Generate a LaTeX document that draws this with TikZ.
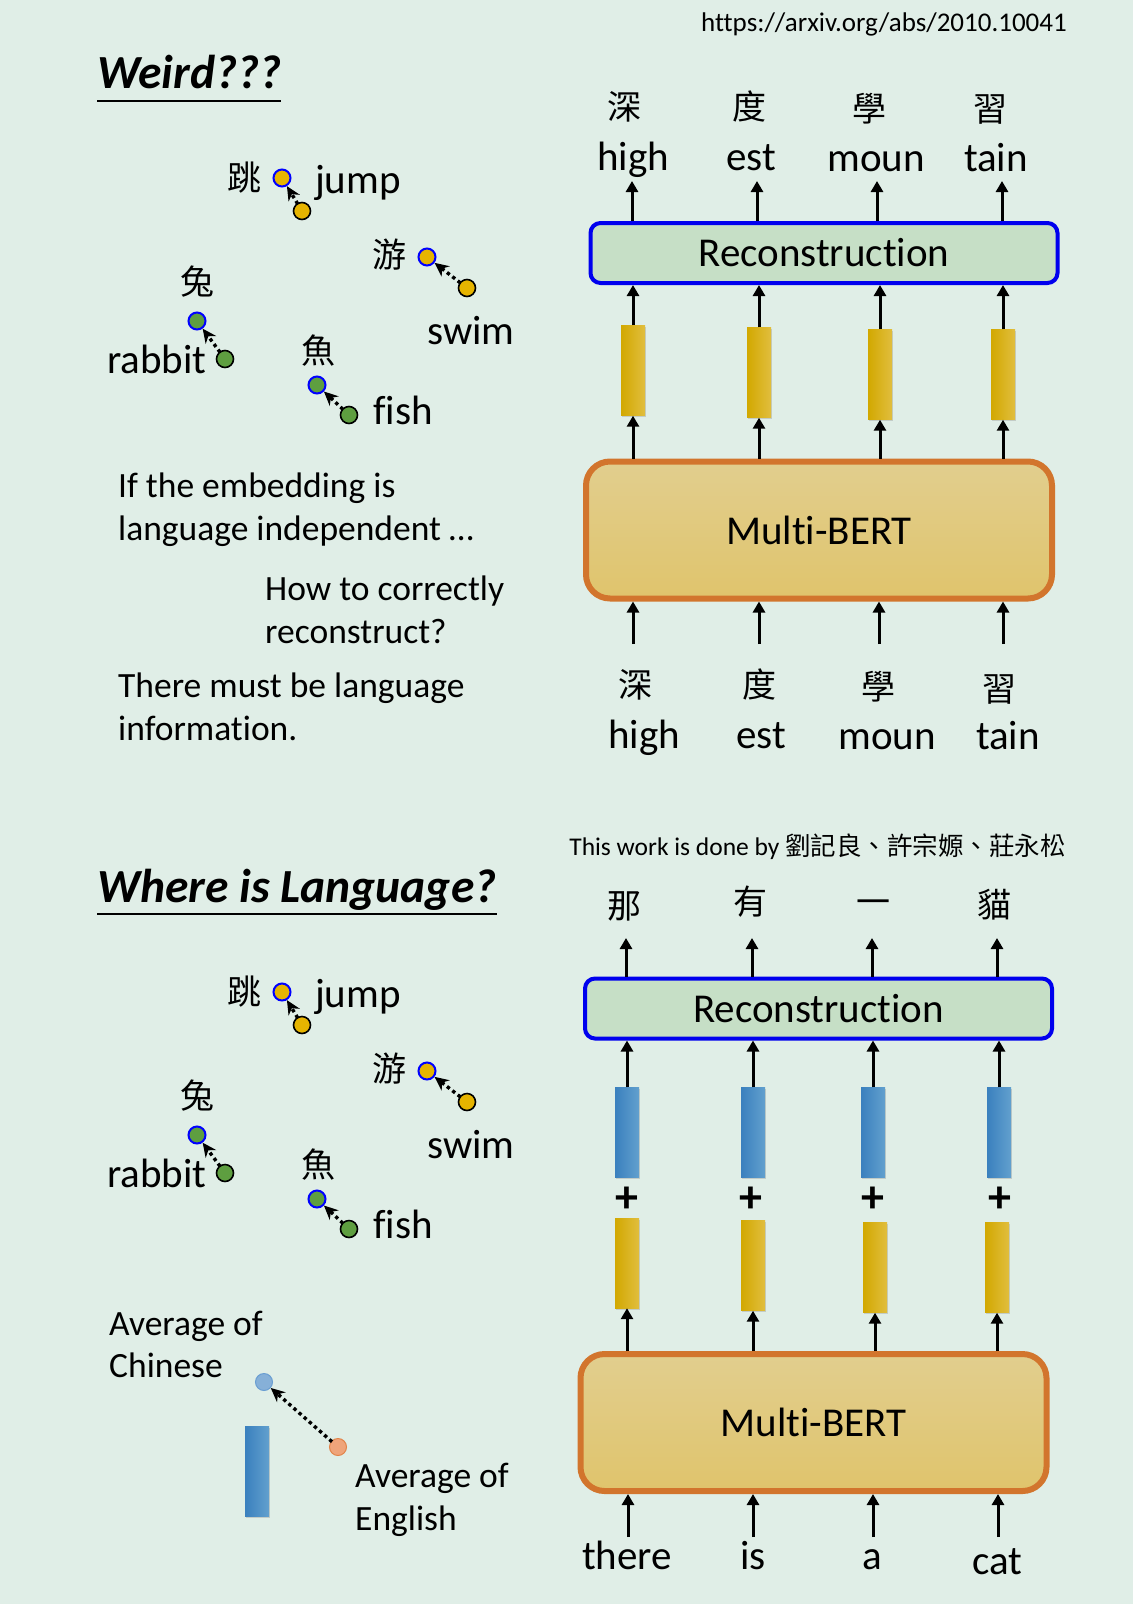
\documentclass[tikz,border=0pt]{standalone}
\usepackage{fontspec}
\setmainfont{Carlito}[Ligatures={NoCommon}]
\newfontfamily\cjk{Noto Sans CJK TC}
\usetikzlibrary{arrows.meta,shadows}
\definecolor{bgc}{HTML}{E0EEE7}
\definecolor{recfill}{HTML}{C6DFC6}
\definecolor{recline}{HTML}{0000EE}
\definecolor{mbtop}{HTML}{E1CE8E}
\definecolor{mbbot}{HTML}{E0C46C}
\definecolor{mbline}{HTML}{D2752D}
\definecolor{ybarL}{HTML}{D2A800}
\definecolor{ybarM}{HTML}{E2B900}
\definecolor{ybarR}{HTML}{E1BE3E}
\definecolor{bbarL}{HTML}{3A80BE}
\definecolor{bbarR}{HTML}{62A0CE}
\definecolor{dotY}{HTML}{E6B400}
\definecolor{dotG}{HTML}{5E9E40}
\definecolor{ltblue}{HTML}{86B0D8}
\definecolor{ltblueL}{HTML}{6A9ED2}
\definecolor{ltor}{HTML}{EFA47A}
\definecolor{ltorL}{HTML}{E2844A}
\newcommand\fsBig{\fontsize{41}{49}\selectfont}
\newcommand\fsMid{\fontsize{35.5}{42}\selectfont}
\newcommand\fsTitle{\fontsize{47.5}{56}\selectfont\bfseries\itshape}
\newcommand\clusterpic[1]{%
  \node[cj] (#1a) at (244,178) {跳};
  \node[dotB,fill=dotY] (#1ap) at (282,178) {};
  \node[dotK,fill=dotY] (#1aq) at (302,211) {};
  \node[wd] (#1aw) at (358,193) {jump};
  \draw[darr] (#1aq) -- (#1ap);
  \node[cj] (#1b) at (389,255) {游};
  \node[dotB,fill=dotY] (#1bp) at (427,257) {};
  \node[dotK,fill=dotY] (#1bq) at (467,288) {};
  \node[wd] (#1bw) at (471,344) {swim};
  \draw[darr] (#1bq) -- (#1bp);
  \node[cj] (#1c) at (197,282) {兔};
  \node[dotB,fill=dotG] (#1cp) at (197,321) {};
  \node[dotK,fill=dotG] (#1cq) at (225,359) {};
  \node[wd] (#1cw) at (157,373) {rabbit};
  \draw[darr] (#1cq) -- (#1cp);
  \node[cj] (#1d) at (318,351) {魚};
  \node[dotB,fill=dotG] (#1dp) at (317,385) {};
  \node[dotK,fill=dotG] (#1dq) at (349,415) {};
  \node[wd] (#1dw) at (403,424) {fish};
  \draw[darr] (#1dq) -- (#1dp);
}
\begin{document}
\begin{tikzpicture}[x=1pt,y=-1pt,
  wd/.style={font=\fsBig, inner sep=0pt, anchor=base},
  txt/.style={font=\fsMid, inner sep=0pt, anchor=base west},
  cj/.style={font=\cjk\fontsize{34}{40}\selectfont, inner sep=0pt, text height=29pt, text depth=4pt},
  recbox/.style={draw=recline, line width=4pt, fill=recfill, rounded corners=10pt,
    minimum width=467pt, minimum height=60pt, inner sep=0pt, font=\fsBig},
  mbbox/.style={draw=mbline, line width=6pt, top color=mbtop, bottom color=mbbot, rounded corners=24pt,
    minimum width=466pt, minimum height=137pt, inner sep=0pt, font=\fsBig},
  ybar/.style={minimum width=24pt, minimum height=90pt, inner sep=0pt,
    left color=ybarL, middle color=ybarM, right color=ybarR,
    drop shadow={opacity=0.3, shadow xshift=1.2pt, shadow yshift=-1.5pt}},
  bbar/.style={minimum width=24pt, minimum height=90pt, inner sep=0pt,
    left color=bbarL, right color=bbarR,
    drop shadow={opacity=0.3, shadow xshift=1.2pt, shadow yshift=-1.5pt}},
  arr/.style={line width=3pt, -{Triangle[length=11pt,width=12pt]}},
  darr/.style={line width=3.4pt, dash pattern=on 3.4pt off 3.4pt, -{Stealth[length=14pt,width=13pt]}, shorten <=-1pt},
  dotB/.style={circle, draw=blue, line width=2pt, minimum size=17pt, inner sep=0pt},
  dotK/.style={circle, draw=black, line width=1.6pt, minimum size=17pt, inner sep=0pt},
  plus/.style={font=\fontsize{46}{48}\selectfont\bfseries, inner sep=0pt}
]
\fill[bgc] (0,0) rectangle (1133,1604);
\useasboundingbox (0,0) rectangle (1133,1604);

% ---------- header ----------
\node[font=\fontsize{27}{31}\selectfont, inner sep=0pt, anchor=base east] (url) at (1067,31) {https://arxiv.org/abs/2010.10041};
\node[font=\fsTitle, inner sep=0pt, anchor=base west] (t1) at (97,88) {Weird???};
\draw[line width=1.8pt] ([yshift=-13pt]t1.base west) -- ([yshift=-13pt]t1.base east);

% ---------- top left cluster ----------
\clusterpic{A}

\node[txt] (l1) at (118,497) {If the embedding is};
\node[txt] (l2) at (118,540) {language independent …};
\node[txt] (l3) at (265,600) {How to correctly};
\node[txt] (l4) at (265,643) {reconstruct?};
\node[txt] (l5) at (118,697) {There must be language};
\node[txt] (l6) at (118,740) {information.};

% ---------- top right ----------
\node[cj] (oz1) at (624,107) {深};
\node[cj] (oz2) at (749,107) {度};
\node[cj] (oz3) at (869,109) {學};
\node[cj] (oz4) at (990,109) {習};
\node[wd] (ow1) at (633,170) {high};
\node[wd] (ow2) at (751,170) {est};
\node[wd] (ow3) at (876,171) {moun};
\node[wd] (ow4) at (996,171) {tain};

\node[recbox] (rc) at (824,253) {Reconstruction};
\node[ybar] (yb1) at (633,370.5) {};
\node[ybar] (yb2) at (759,372.5) {};
\node[ybar] (yb3) at (880,374.5) {};
\node[ybar] (yb4) at (1003,374.5) {};
\node[mbbox] (mb) at (819,530) {Multi-BERT};

\foreach \i/\x in {1/632,2/757,3/877,4/1002}{
  \coordinate (u\i) at (\x,181);
  \draw[arr] (u\i |- rc.north) -- (u\i);
}
\foreach \i in {1,...,4}{
  \draw[arr] (yb\i.north) -- (yb\i.north |- rc.south);
  \draw[arr] (yb\i.south |- mb.north) -- (yb\i.south);
}
\foreach \i/\x in {1/633,2/759,3/879,4/1003}{
  \coordinate (d\i) at (\x,644);
  \draw[arr] (d\i) -- (d\i |- mb.south);
}

\node[cj] (iz1) at (635,685) {深};
\node[cj] (iz2) at (759,685) {度};
\node[cj] (iz3) at (878,687) {學};
\node[cj] (iz4) at (999,689) {習};
\node[wd] (iw1) at (644,748) {high};
\node[wd] (iw2) at (761,748) {est};
\node[wd] (iw3) at (887,749) {moun};
\node[wd] (iw4) at (1008,749) {tain};

% ---------- bottom header ----------
\node[font=\fontsize{25.5}{30}\selectfont, inner sep=0pt, anchor=base east] (credit) at (1066,855) {This work is done by {\cjk 劉記良、許宗嫄、莊永松}};
\node[font=\fsTitle, inner sep=0pt, anchor=base west] (t2) at (97,902) {Where is Language?};
\draw[line width=1.8pt] ([yshift=-12pt]t2.base west) -- ([yshift=-12pt]t2.base east);

% ---------- bottom left cluster ----------
\begin{scope}[shift={(0,814)}]
\clusterpic{B}
\end{scope}

\node[txt] (ac1) at (109,1335) {Average of};
\node[txt] (ac2) at (109,1377) {Chinese};
\node[circle, draw=ltblueL, line width=1pt, fill=ltblue, minimum size=17pt, inner sep=0pt] (avc) at (264,1382) {};
\node[circle, draw=ltorL, line width=1pt, fill=ltor, minimum size=17pt, inner sep=0pt] (ave) at (338,1447) {};
\draw[darr] (ave) -- (avc);
\node[bbar] (lbar) at (257,1471) {};
\node[txt] (ae1) at (355,1487) {Average of};
\node[txt] (ae2) at (355,1530) {English};

% ---------- bottom right ----------
\node[cj] (oc1) at (624,906) {那};
\node[cj] (oc2) at (750,902) {有};
\node[cj] (oc3) at (873,902) {一};
\node[cj] (oc4) at (994,905) {貓};

\node[recbox] (rc2) at (818.5,1008.5) {Reconstruction};
\foreach \i/\x in {1/627,2/753,3/873,4/999}{
  \node[bbar] (bb\i) at (\x,1132.5) {};
}
\node[plus] (p1) at (627,1200) {+};
\node[plus] (p2) at (751,1200) {+};
\node[plus] (p3) at (873,1200) {+};
\node[plus] (p4) at (1000,1200) {+};
\node[ybar] (zb1) at (627,1263) {};
\node[ybar] (zb2) at (753,1265.5) {};
\node[ybar] (zb3) at (875,1267.5) {};
\node[ybar] (zb4) at (997,1267.5) {};
\node[mbbox] (mb2) at (813.5,1422.5) {Multi-BERT};

\foreach \i/\x in {1/626,2/752,3/872,4/997}{
  \coordinate (v\i) at (\x,938);
  \draw[arr] (v\i |- rc2.north) -- (v\i);
}
\foreach \i in {1,...,4}{
  \draw[arr] (bb\i.north) -- (bb\i.north |- rc2.south);
  \draw[arr] (zb\i.south |- mb2.north) -- (zb\i.south);
}
\foreach \i/\x in {1/628,2/753,3/873,4/998}{
  \coordinate (e\i) at (\x,1537);
  \draw[arr] (e\i) -- (e\i |- mb2.south);
}
\node[wd] (ew1) at (627,1569) {there};
\node[wd] (ew2) at (753,1569) {is};
\node[wd] (ew3) at (872,1569) {a};
\node[wd] (ew4) at (997,1574) {cat};
\end{tikzpicture}
\end{document}
